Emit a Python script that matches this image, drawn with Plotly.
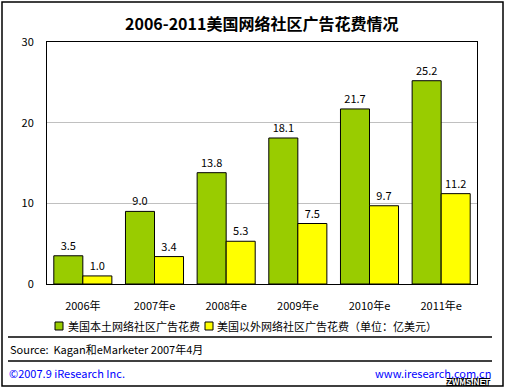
import plotly.graph_objects as go

years = ["2006年", "2007年e", "2008年e", "2009年e", "2010年e", "2011年e"]
domestic = [3.5, 9.0, 13.8, 18.1, 21.7, 25.2]
overseas = [1.0, 3.4, 5.3, 7.5, 9.7, 11.2]
name_dom = "美国本土网络社区广告花费"
name_ovs = "美国以外网络社区广告花费"
unit = "（单位：亿美元）"
title = "2006-2011美国网络社区广告花费情况"
source = "Source:  Kagan和eMarketer 2007年4月"
copyright_txt = "©2007.9 iResearch Inc."
site = "www.iresearch.com.cn"
watermark = "ZWMS.NET"

W, H = 506, 390
L, R, T, B = 47, 477, 42, 284
FONT = "Noto Sans CJK SC"

def px(x):
    return (x - L) / (R - L)

def py(y):
    return (B - y) / (B - T)

fig = go.Figure()
fig.add_trace(go.Bar(x=years, y=domestic, name=name_dom,
                     marker=dict(color="#99CC00", line=dict(color="black", width=1)),
                     texttemplate="%{y:.1f}", textposition="outside",
                     textfont=dict(size=11, color="black", family=FONT), cliponaxis=False))
fig.add_trace(go.Bar(x=years, y=overseas, name=name_ovs,
                     marker=dict(color="#FFFF00", line=dict(color="black", width=1)),
                     texttemplate="%{y:.1f}", textposition="outside",
                     textfont=dict(size=11, color="black", family=FONT), cliponaxis=False))

shapes = []
shapes.append(dict(type="rect", xref="paper", yref="paper", x0=px(2), x1=px(503), y0=py(2), y1=py(386),
                   line=dict(color="black", width=1.5), layer="below"))
for yy in (337, 361):
    shapes.append(dict(type="line", xref="paper", yref="paper", x0=px(8), x1=px(492), y0=py(yy), y1=py(yy),
                       line=dict(color="black", width=1.5)))
for x0, col in ((55, "#99CC00"), (205, "#FFFF00")):
    shapes.append(dict(type="rect", xref="paper", yref="paper", x0=px(x0), x1=px(x0 + 8), y0=py(330), y1=py(322),
                       fillcolor=col, line=dict(color="black", width=1)))

def note(text, x, y, anchor="left", color="black", size=11, **kw):
    return dict(text=text, x=px(x), y=py(y), xref="paper", yref="paper", xanchor=anchor, yanchor="middle",
                showarrow=False, font=dict(size=size, family=FONT, color=color, **kw))

ann = [
    note("<b>" + title + "</b>", 261, 23, "center", size=16),
    note(name_dom, 66, 326),
    note(name_ovs + unit, 215, 326),
    note(source, 8, 349),
    note(copyright_txt, 7, 373, color="#0000FF"),
    note(site, 493, 373, "right", color="#0000FF"),
    note("<b>" + watermark + "</b>", 492, 381, "right", color="white", size=8,
         shadow="1px 1px 0 black, -1px -1px 0 black, 1px -1px 0 black, -1px 1px 0 black"),
]

fig.update_layout(
    width=W, height=H,
    margin=dict(l=L, r=W - R, t=T, b=H - B, pad=0),
    paper_bgcolor="white", plot_bgcolor="white",
    barmode="group", bargap=0.19, bargroupgap=0,
    showlegend=False,
    font=dict(family=FONT, size=11, color="black"),
    shapes=shapes, annotations=ann,
    xaxis=dict(showline=True, linecolor="black", linewidth=1, mirror=True, ticks="",
               tickfont=dict(size=11), ticklabelstandoff=12, automargin=False),
    yaxis=dict(range=[0, 30], tickvals=[0, 10, 20, 30], showgrid=True, gridcolor="#C0C0C0", gridwidth=1,
               showline=True, linecolor="black", linewidth=1, mirror=True, ticks="",
               zeroline=False, tickfont=dict(size=11), ticklabelstandoff=10, automargin=False),
)

fig.write_html("out.html", config={"displayModeBar": False},
               post_script="document.body.style.margin='0';document.body.style.padding='0';")
